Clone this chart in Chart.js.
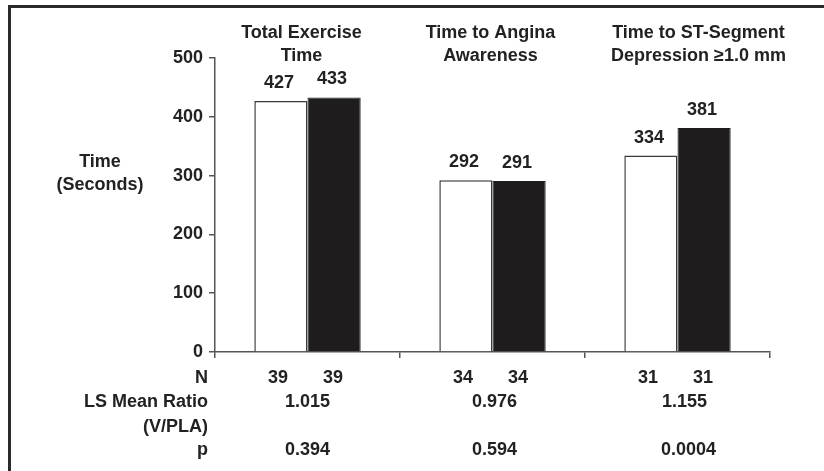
<!DOCTYPE html>
<html>
<head>
<meta charset="utf-8">
<script src="https://cdn.jsdelivr.net/npm/chart.js@4"></script>
<style>
  html, body { margin: 0; padding: 0; background: #fff; }
  #wrap { position: relative; width: 824px; height: 471px; overflow: hidden; }
  #frame { position: absolute; left: 8px; top: 5px; width: 830px; height: 480px;
           border-left: 3px solid #2a2a2a; border-top: 3px solid #2a2a2a; }
  canvas { position: absolute; left: 0; top: 0; }
</style>
</head>
<body>
<div id="wrap">
  <div id="frame"></div>
  <canvas id="chart" width="824" height="471"></canvas>
</div>
<script>
// data
const categories = [
    ['Total Exercise', 'Time'],
    ['Time to Angina', 'Awareness'],
    ['Time to ST-Segment', 'Depression \u22651.0 mm']
];
const placebo = [427, 292, 334];   // white bars
const active = [433, 291, 381];    // black bars
const nPlacebo = [39, 34, 31];
const nActive = [39, 34, 31];
const meanRatio = ['1.015', '0.976', '1.155'];
const pValues = ['0.394', '0.594', '0.0004'];
const yMin = 0, yMax = 500, yStep = 100;
const yTitle = ['Time', '(Seconds)'];
const rowLabels = ['N', 'LS Mean Ratio', '(V/PLA)', 'p'];

const INK = '#222';
const BOLD = 'bold 18px "Liberation Sans", Arial, sans-serif';

// texte autour du graphique
const annotations = {
    id: 'annotations',
    afterDatasetsDraw(chart) {
        const ctx = chart.ctx;
        const x = chart.scales.x;
        ctx.save();
        ctx.fillStyle = INK;
        ctx.font = BOLD;
        ctx.textAlign = 'center';

        // valeurs au-dessus des barres
        ctx.textBaseline = 'bottom';
        chart.data.datasets.forEach((ds, di) => {
            chart.getDatasetMeta(di).data.forEach((bar, i) => {
                ctx.fillText(String(ds.data[i]), bar.x - 2, bar.y - 9);
            });
        });

        // titres des catégories
        ctx.textBaseline = 'middle';
        const titleShift = [-6, -2, 21];
        categories.forEach((lines, i) => {
            const cx = x.getPixelForValue(i) + titleShift[i];
            lines.forEach((t, k) => ctx.fillText(t, cx, 33 + k * 23));
        });

        // titre de l'axe Y
        yTitle.forEach((t, k) => ctx.fillText(t, 100, 162 + k * 23));

        // tableau sous l'axe
        const rowY = [378, 402, 427, 450];
        ctx.textAlign = 'right';
        rowLabels.forEach((t, k) => ctx.fillText(t, 208, rowY[k]));
        ctx.textAlign = 'center';
        const m0 = chart.getDatasetMeta(0).data;
        const m1 = chart.getDatasetMeta(1).data;
        const valShift = [0, 2, 7];
        categories.forEach((c, i) => {
            ctx.fillText(String(nPlacebo[i]), m0[i].x - 3, rowY[0]);
            ctx.fillText(String(nActive[i]), m1[i].x - 1, rowY[0]);
            const cx = x.getPixelForValue(i) + valShift[i];
            ctx.fillText(meanRatio[i], cx, rowY[1]);
            ctx.fillText(pValues[i], cx + (i === 2 ? 4 : 0), rowY[3]);
        });
        ctx.restore();
    }
};

new Chart(document.getElementById('chart'), {
    type: 'bar',
    data: {
        labels: categories.map(c => c.join(' ')),
        datasets: [{
            data: placebo,
            backgroundColor: '#ffffff',
            borderColor: '#3a3a3a',
            borderWidth: 1.5
        }, {
            data: active,
            backgroundColor: '#1e1c1d',
            borderColor: '#1e1c1d',
            borderWidth: 1
        }]
    },
    options: {
        responsive: false,
        animation: false,
        events: [],
        layout: { padding: { top: 58, right: 54, bottom: 0, left: 0 } },
        datasets: { bar: { categoryPercentage: 0.575, barPercentage: 1 } },
        plugins: { legend: { display: false }, tooltip: { enabled: false } },
        scales: {
            x: {
                offset: true,
                grid: { offset: true, drawOnChartArea: false, tickLength: 6, color: '#555', lineWidth: 1.5 },
                border: { color: '#555', width: 1.5 },
                ticks: { display: false },
                afterFit(s) { s.height = 119; }
            },
            y: {
                min: yMin,
                max: yMax,
                ticks: { stepSize: yStep, color: INK, font: { family: '"Liberation Sans", Arial, sans-serif', size: 18, weight: 'bold' }, padding: 6 },
                grid: { drawOnChartArea: false, tickLength: 6, color: '#555', lineWidth: 1.5 },
                border: { color: '#555', width: 1.5 },
                afterFit(s) { s.width = 215; }
            }
        }
    },
    plugins: [annotations]
});
</script>
</body>
</html>
